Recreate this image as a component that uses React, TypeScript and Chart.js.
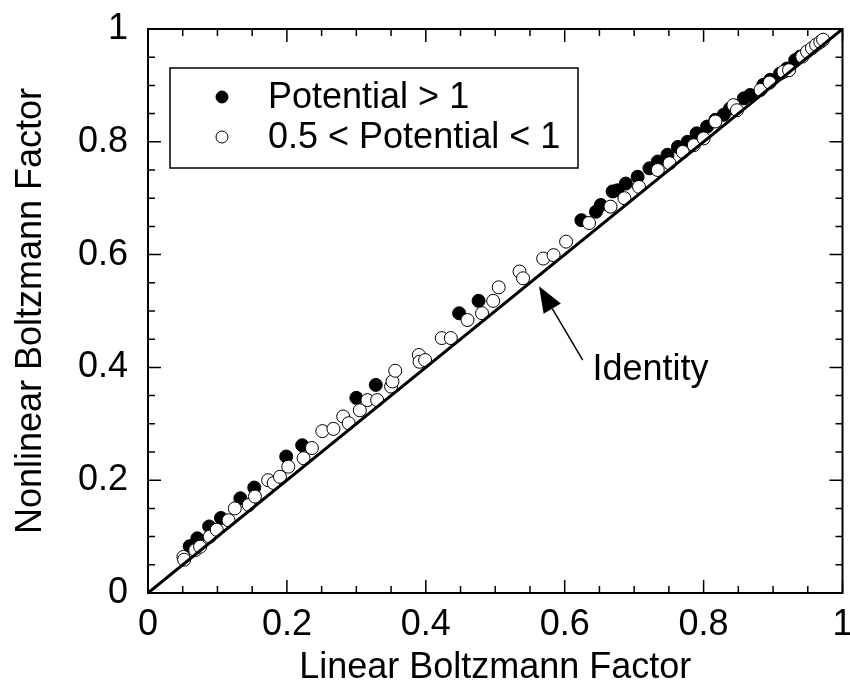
import { useEffect, useRef } from "react";
import { Chart, registerables } from "chart.js";

Chart.register(...registerables);

// Axis labels and tick values
const X_TITLE = "Linear Boltzmann Factor";
const Y_TITLE = "Nonlinear Boltzmann Factor";
const AXIS_TICKS = [0, 0.2, 0.4, 0.6, 0.8, 1];
const MINOR_STEP = 0.05;

// Series names
const HIGH_NAME = "Potential > 1";
const MID_NAME = "0.5 < Potential < 1";
const IDENTITY_LABEL = "Identity";

// Potential > 1 (filled circles)
const highX = [
  0.06, 0.071, 0.088, 0.105, 0.133, 0.153, 0.199, 0.222, 0.3, 0.328, 0.448, 0.476,
  0.624, 0.645, 0.652, 0.669, 0.676, 0.688, 0.705, 0.722, 0.734, 0.748, 0.763, 0.777,
  0.79, 0.805, 0.817, 0.829, 0.838, 0.858, 0.867, 0.886, 0.896, 0.91, 0.92, 0.932, 0.939,
];
const highY = [
  0.083, 0.097, 0.118, 0.133, 0.168, 0.187, 0.242, 0.262, 0.346, 0.369, 0.496, 0.518,
  0.661, 0.676, 0.688, 0.712, 0.714, 0.726, 0.738, 0.753, 0.765, 0.777, 0.791, 0.8,
  0.815, 0.827, 0.839, 0.848, 0.859, 0.877, 0.883, 0.901, 0.91, 0.921, 0.93, 0.945, 0.951,
];

// 0.5 < Potential < 1 (open circles)
const midX = [
  0.051, 0.052, 0.068, 0.075, 0.089, 0.099, 0.116, 0.125, 0.145, 0.154, 0.173, 0.181,
  0.19, 0.202, 0.224, 0.236, 0.251, 0.267, 0.281, 0.289, 0.305, 0.316, 0.33, 0.35,
  0.352, 0.356, 0.39, 0.391, 0.399, 0.423, 0.436, 0.46, 0.481, 0.497, 0.505, 0.535,
  0.54, 0.569, 0.584, 0.602, 0.635, 0.666, 0.686, 0.707, 0.734, 0.751, 0.77, 0.786,
  0.8, 0.817, 0.843, 0.848, 0.882, 0.895, 0.915, 0.923, 0.942, 0.949, 0.956, 0.962,
  0.968, 0.972,
];
const midY = [
  0.064, 0.059, 0.076, 0.082, 0.1, 0.112, 0.129, 0.15, 0.156, 0.171, 0.2, 0.195,
  0.206, 0.224, 0.239, 0.257, 0.287, 0.291, 0.313, 0.301, 0.324, 0.342, 0.342, 0.366,
  0.375, 0.394, 0.422, 0.41, 0.413, 0.452, 0.452, 0.484, 0.496, 0.518, 0.542, 0.57,
  0.558, 0.593, 0.599, 0.623, 0.656, 0.685, 0.7, 0.72, 0.75, 0.762, 0.782, 0.794,
  0.806, 0.836, 0.865, 0.856, 0.892, 0.905, 0.924, 0.927, 0.951, 0.96, 0.966, 0.972,
  0.977, 0.981,
];

// Identity line y = x
const identityX = [0, 1];
const identityY = [0, 1];

// Arrow annotation (data coordinates): tail -> tip, and label anchor
const arrowTail = { x: 0.626, y: 0.413 };
const arrowTip = { x: 0.563, y: 0.544 };
const labelAnchor = { x: 0.64, y: 0.378 };

const FONT = "'Liberation Sans', Arial, Helvetica, sans-serif";
const FONT_SIZE = 36;

const toPoints = (xs: number[], ys: number[]) => xs.map((x, i) => ({ x, y: ys[i] }));

const decorPlugin = {
  id: "frameTicksLegend",
  afterDraw(chart: any) {
    const { ctx, chartArea: a } = chart;
    const xs = chart.scales.x;
    const ys = chart.scales.y;
    ctx.save();

    // frame
    ctx.strokeStyle = "#000";
    ctx.lineWidth = 2;
    ctx.strokeRect(a.left, a.top, a.right - a.left, a.bottom - a.top);

    // inward ticks on all four sides
    ctx.lineWidth = 1.5;
    const n = Math.round(1 / MINOR_STEP);
    const perMajor = Math.round(0.2 / MINOR_STEP);
    for (let i = 0; i <= n; i++) {
      const v = i * MINOR_STEP;
      const len = i % perMajor === 0 ? 13 : 7;
      const px = xs.getPixelForValue(v);
      const py = ys.getPixelForValue(v);
      ctx.beginPath();
      ctx.moveTo(px, a.bottom);
      ctx.lineTo(px, a.bottom - len);
      ctx.moveTo(px, a.top);
      ctx.lineTo(px, a.top + len);
      ctx.moveTo(a.left, py);
      ctx.lineTo(a.left + len, py);
      ctx.moveTo(a.right, py);
      ctx.lineTo(a.right - len, py);
      ctx.stroke();
    }

    // legend box
    const bx = a.left + 22;
    const by = a.top + 39;
    const bw = 408;
    const bh = 100;
    ctx.fillStyle = "#fff";
    ctx.fillRect(bx, by, bw, bh);
    ctx.lineWidth = 1.5;
    ctx.strokeStyle = "#000";
    ctx.strokeRect(bx, by, bw, bh);

    const entries = chart.data.datasets.filter((d: any) => d.legendRow !== undefined);
    ctx.font = `${FONT_SIZE}px ${FONT}`;
    ctx.textBaseline = "middle";
    ctx.textAlign = "left";
    entries.forEach((d: any) => {
      const cy = by + 29 + d.legendRow * 40;
      ctx.beginPath();
      ctx.arc(bx + 52, cy, 6, 0, Math.PI * 2);
      ctx.fillStyle = d.backgroundColor;
      ctx.fill();
      ctx.lineWidth = 1;
      ctx.strokeStyle = "#000";
      ctx.stroke();
      ctx.fillStyle = "#000";
      ctx.fillText(d.label, bx + 98, cy + 1);
    });

    // arrow pointing at identity line
    const tx = xs.getPixelForValue(arrowTail.x);
    const ty = ys.getPixelForValue(arrowTail.y);
    const hx = xs.getPixelForValue(arrowTip.x);
    const hy = ys.getPixelForValue(arrowTip.y);
    const ang = Math.atan2(hy - ty, hx - tx);
    const headLen = 26;
    const headHalf = 10;
    const baseX = hx - headLen * Math.cos(ang);
    const baseY = hy - headLen * Math.sin(ang);
    ctx.strokeStyle = "#000";
    ctx.lineWidth = 1.5;
    ctx.beginPath();
    ctx.moveTo(tx, ty);
    ctx.lineTo(baseX, baseY);
    ctx.stroke();
    ctx.fillStyle = "#000";
    ctx.beginPath();
    ctx.moveTo(hx, hy);
    ctx.lineTo(baseX + headHalf * Math.sin(ang), baseY - headHalf * Math.cos(ang));
    ctx.lineTo(baseX - headHalf * Math.sin(ang), baseY + headHalf * Math.cos(ang));
    ctx.closePath();
    ctx.fill();

    ctx.textBaseline = "alphabetic";
    ctx.fillText(
      IDENTITY_LABEL,
      xs.getPixelForValue(labelAnchor.x),
      ys.getPixelForValue(labelAnchor.y)
    );

    ctx.restore();
  },
};

export default function App() {
  const canvasRef = useRef<HTMLCanvasElement | null>(null);

  useEffect(() => {
    if (!canvasRef.current) return;
    const tickFont = { family: FONT, size: FONT_SIZE };
    const chart = new Chart(canvasRef.current, {
      type: "scatter",
      data: {
        datasets: [
          {
            label: "Identity",
            data: toPoints(identityX, identityY),
            showLine: true,
            borderColor: "#000",
            borderWidth: 3,
            pointRadius: 0,
            order: 0,
          } as any,
          {
            label: MID_NAME,
            data: toPoints(midX, midY),
            backgroundColor: "#fff",
            borderColor: "#000",
            borderWidth: 1,
            pointRadius: 6.5,
            order: 1,
            legendRow: 1,
          },
          {
            label: HIGH_NAME,
            data: toPoints(highX, highY),
            backgroundColor: "#000",
            borderColor: "#000",
            borderWidth: 1,
            pointRadius: 6.5,
            order: 2,
            legendRow: 0,
          },
        ],
      },
      options: {
        responsive: false,
        animation: false,
        layout: { padding: { top: 29, right: 4, bottom: 0, left: 0 } },
        plugins: {
          legend: { display: false },
          tooltip: { enabled: false },
        },
        scales: {
          x: {
            type: "linear",
            min: 0,
            max: 1,
            grid: { display: false, drawTicks: false },
            border: { display: false },
            ticks: {
              font: tickFont,
              color: "#000",
              padding: 10,
              maxRotation: 0,
              autoSkip: false,
              callback: (v: any) => String(Math.round(Number(v) * 10) / 10),
            },
            afterBuildTicks: (s: any) => {
              s.ticks = AXIS_TICKS.map((value) => ({ value }));
            },
            afterFit: (s: any) => {
              s.height = 97;
              s.paddingLeft = 0;
              s.paddingRight = 0;
            },
            title: {
              display: true,
              text: X_TITLE,
              font: tickFont,
              color: "#000",
              padding: { top: 0, bottom: 0 },
            },
          },
          y: {
            type: "linear",
            min: 0,
            max: 1,
            grid: { display: false, drawTicks: false },
            border: { display: false },
            ticks: {
              font: tickFont,
              color: "#000",
              padding: 20,
              autoSkip: false,
              callback: (v: any) => String(Math.round(Number(v) * 10) / 10),
            },
            afterBuildTicks: (s: any) => {
              s.ticks = AXIS_TICKS.map((value) => ({ value }));
            },
            afterFit: (s: any) => {
              s.width = 148;
              s.paddingTop = 0;
              s.paddingBottom = 0;
            },
            title: {
              display: true,
              text: Y_TITLE,
              font: tickFont,
              color: "#000",
              padding: { top: 9, bottom: 0 },
            },
          },
        },
      } as any,
      plugins: [decorPlugin],
    });
    return () => chart.destroy();
  }, []);

  return (
    <div style={{ position: "absolute", left: 0, top: 0, width: 850, height: 690, background: "#fff" }}>
      <canvas ref={canvasRef} width={850} height={690} style={{ display: "block" }} />
    </div>
  );
}
